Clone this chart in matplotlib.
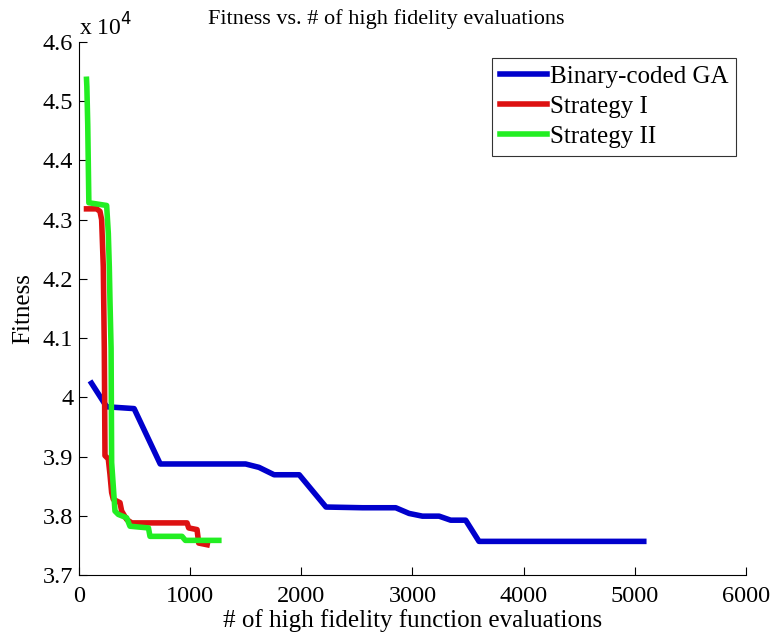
import numpy as np
import matplotlib.pyplot as plt
from matplotlib.ticker import FuncFormatter

plt.rcParams['font.family'] = ['Liberation Serif', 'DejaVu Serif']

# Binary-coded GA history
ga_evals = [114, 250, 497, 732, 1500, 1620, 1756, 1982, 2223, 2551, 2850, 2970,
            3090, 3240, 3344, 3479, 3599, 5081]
ga_fit = [40239, 39841, 39810, 38875, 38875, 38818, 38693, 38693, 38148, 38136,
          38136, 38040, 37994, 37994, 37926, 37926, 37568, 37568]

# Strategy I
s1_evals = [69, 160, 190, 205, 220, 229, 235, 265, 280, 295, 310, 370, 385, 430,
            476, 973, 988, 1063, 1078, 1154]
s1_fit = [43183, 43183, 43140, 43000, 42200, 40830, 39017, 38960, 38700, 38392,
          38278, 38222, 38080, 37938, 37880, 37880, 37795, 37767, 37540, 37511]

# Strategy II
s2_evals = [69, 72, 80, 90, 250, 265, 274, 280, 290, 295, 325, 355, 430, 460,
            626, 640, 928, 958, 1259]
s2_fit = [45371, 45250, 44600, 43286, 43240, 42770, 42200, 41630, 40830, 38900,
          38080, 38023, 37966, 37824, 37795, 37653, 37653, 37585, 37585]

fig = plt.figure(figsize=(7.73, 6.33), dpi=100)
ax = fig.add_axes([0.102, 0.0916, 0.863, 0.842])

ax.plot(ga_evals, ga_fit, color='#0000cc', lw=4, label='Binary-coded GA')
ax.plot(s1_evals, s1_fit, color='#dd1111', lw=4, label='Strategy I')
ax.plot(s2_evals, s2_fit, color='#22ee22', lw=4, label='Strategy II')

ax.set_xlim(0, 6000)
ax.set_ylim(37000, 46000)
ax.set_xticks(np.arange(0, 6001, 1000))
ax.set_yticks(np.arange(37000, 46001, 1000))
ax.yaxis.set_major_formatter(FuncFormatter(lambda v, p: '%g' % round(v / 1e4, 2)))

for s in ['top', 'right']:
    ax.spines[s].set_visible(False)
ax.tick_params(direction='in', labelsize=17.5, length=6)
ax.tick_params(axis='x', pad=8)
ax.tick_params(axis='y', pad=4)

ax.text(0, 1.003, r'x 10$^{4}$', transform=ax.transAxes, fontsize=17,
        ha='left', va='bottom')
ax.set_xlabel('# of high fidelity function evaluations', fontsize=18, labelpad=1)
ax.set_ylabel('Fitness', fontsize=18, labelpad=6)
fig.text(0.5, 0.97, 'Fitness vs. # of high fidelity evaluations', fontsize=16,
         ha='center', va='center')

leg = ax.legend(loc='upper right', bbox_to_anchor=(0.985, 0.97), fontsize=18,
                fancybox=False, edgecolor='black', handlelength=1.9,
                handletextpad=0.1, borderpad=0.3, labelspacing=0.3,
                borderaxespad=0)
leg.get_frame().set_linewidth(0.8)

fig.savefig('out.png', dpi=100)
